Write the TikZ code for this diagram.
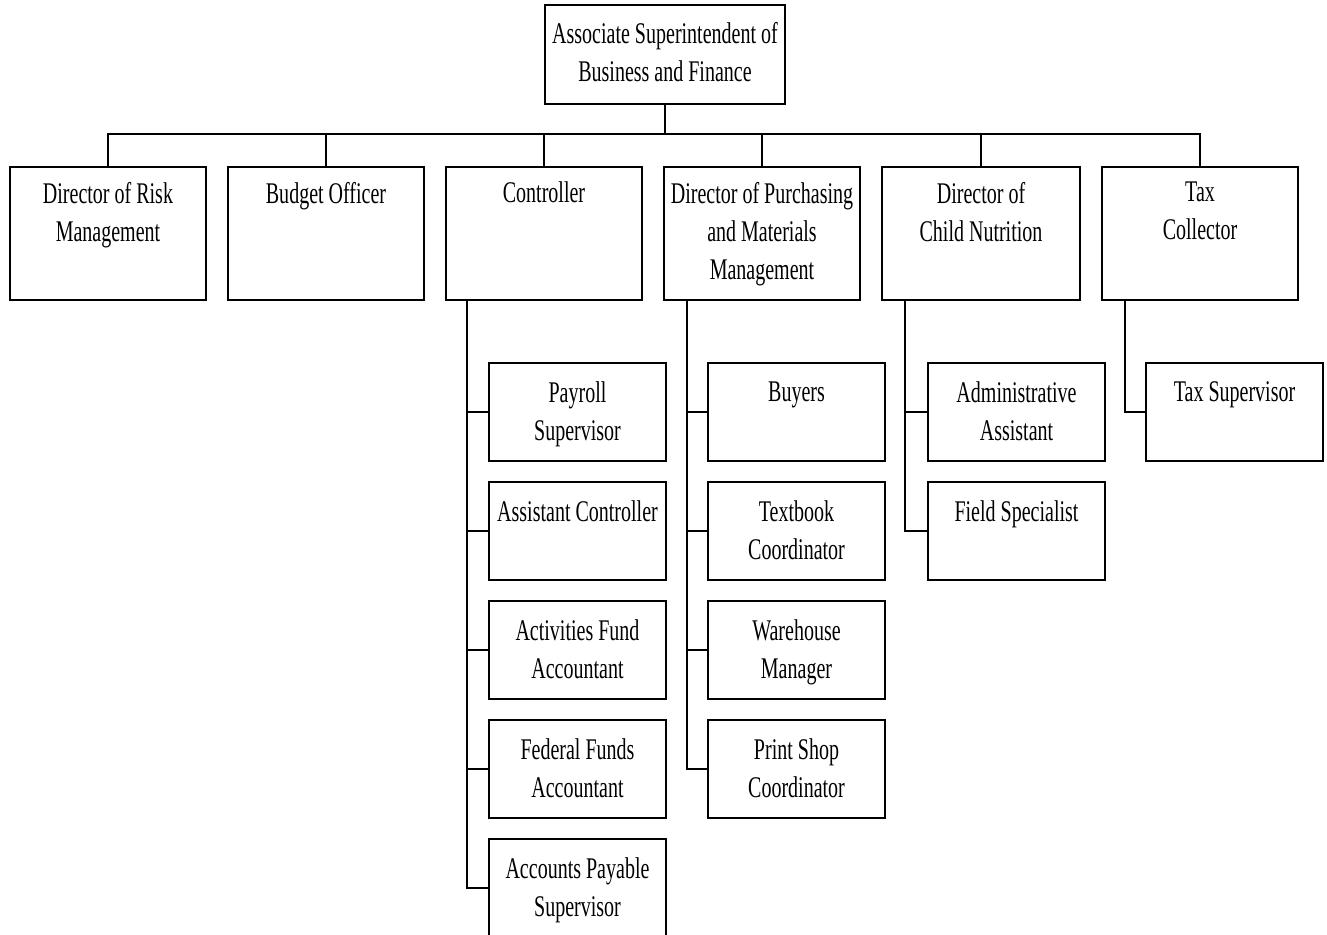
\documentclass[tikz,border=0pt]{standalone}
\usepackage{fontspec}
\setmainfont{Liberation Serif}[FakeStretch=0.667]
\tikzset{
  post/.style={draw, line width=1.6pt, minimum width=196pt, minimum height=133pt, inner sep=0pt},
  staff/.style={draw, line width=1.6pt, minimum width=177pt, minimum height=98pt, inner sep=0pt},
  title/.style={anchor=north, align=center, inner sep=0pt, font=\fontsize{30}{38}\selectfont},
  head/.style={title, yshift=-15.5pt},
  sub/.style={title, yshift=-19.5pt},
  link/.style={line width=1.6pt}
}
\begin{document}
\begin{tikzpicture}[x=1pt, y=-1pt]
\useasboundingbox (0,0) rectangle (1327,934);

% top
\node[draw, line width=1.6pt, minimum width=240pt, minimum height=99pt,
      label={[title, yshift=-17.5pt]north:{Associate Superintendent of\\Business and Finance}}] (assoc) at (665,54.5) {};

% directors
\node[post, label={[head]north:{Director of Risk\\Management}}] (risk) at (108,233.5) {};
\node[post, label={[head]north:{Budget Officer}}] (budget) at (326,233.5) {};
\node[post, label={[head]north:{Controller}}] (ctrl) at (544,233.5) {};
\node[post, label={[head]north:{Director of Purchasing\\and Materials\\Management}}] (purch) at (762,233.5) {};
\node[post, minimum width=198pt, label={[head]north:{Director of\\Child Nutrition}}] (nutr) at (981,233.5) {};
\node[post, label={[head]north:{Tax\\Collector}}] (tax) at (1200,233.5) {};

% controller staff
\node[staff, label={[sub]north:{Payroll\\Supervisor}}] (payroll) at (577.5,412) {};
\node[staff, label={[sub]north:{Assistant Controller}}] (asst) at (577.5,531) {};
\node[staff, label={[sub]north:{Activities Fund\\Accountant}}] (actfund) at (577.5,650) {};
\node[staff, label={[sub]north:{Federal Funds\\Accountant}}] (fedfund) at (577.5,769) {};
\node[staff, label={[sub]north:{Accounts Payable\\Supervisor}}] (payable) at (577.5,888) {};

% purchasing staff
\node[staff, label={[sub]north:{Buyers}}] (buyers) at (796.5,412) {};
\node[staff, label={[sub]north:{Textbook\\Coordinator}}] (textbook) at (796.5,531) {};
\node[staff, label={[sub]north:{Warehouse\\Manager}}] (warehouse) at (796.5,650) {};
\node[staff, label={[sub]north:{Print Shop\\Coordinator}}] (printshop) at (796.5,769) {};

% child nutrition staff
\node[staff, label={[sub]north:{Administrative\\Assistant}}] (admin) at (1016.5,412) {};
\node[staff, label={[sub]north:{Field Specialist}}] (field) at (1016.5,531) {};

% tax staff
\node[staff, label={[sub]north:{Tax Supervisor}}] (taxsup) at (1234.5,412) {};

% lines
\coordinate (bus) at (0,134);
\foreach \n in {risk,budget,ctrl,purch,nutr,tax}
  \draw[link] (assoc.south) |- (bus -| \n.north) -- (\n.north);

\foreach \n in {payroll,asst,actfund,fedfund,payable}
  \draw[link] ([xshift=22pt]ctrl.south west) |- (\n.west);
\foreach \n in {buyers,textbook,warehouse,printshop}
  \draw[link] ([xshift=24pt]purch.south west) |- (\n.west);
\foreach \n in {admin,field}
  \draw[link] ([xshift=24pt]nutr.south west) |- (\n.west);
\draw[link] ([xshift=24pt]tax.south west) |- (taxsup.west);
\end{tikzpicture}
\end{document}
